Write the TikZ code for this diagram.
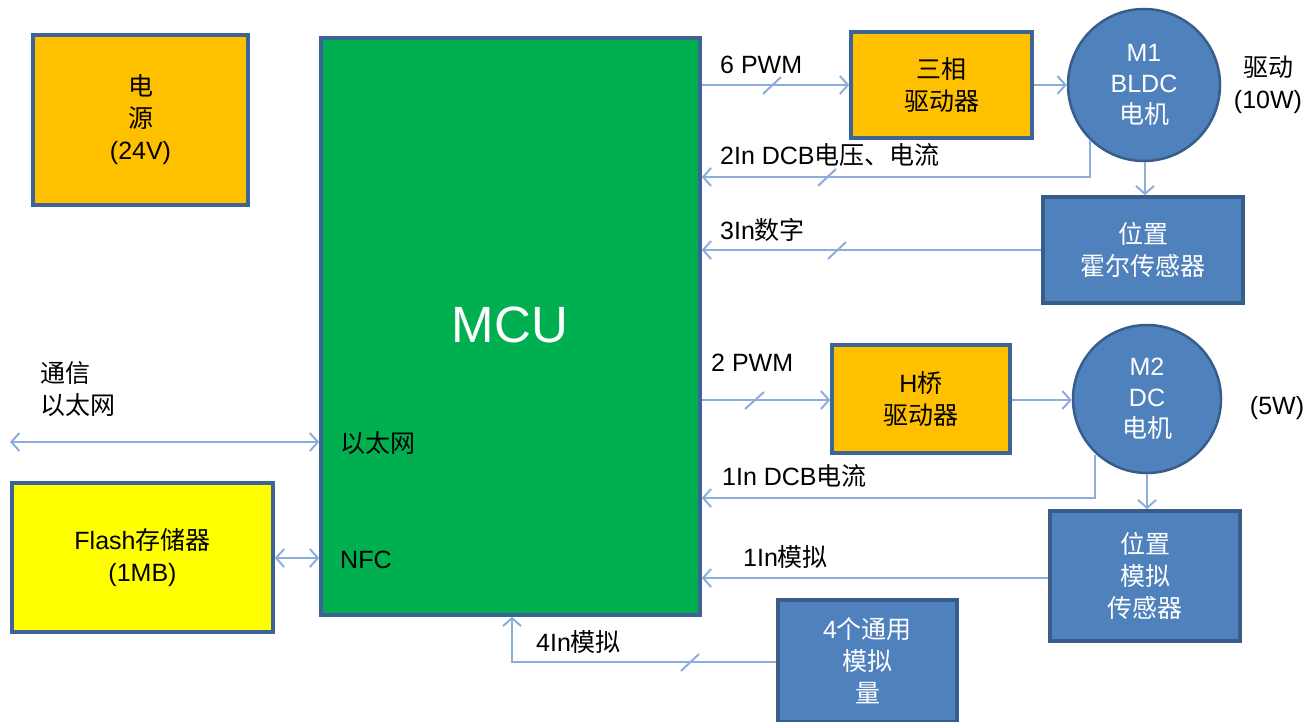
\documentclass[tikz,border=0pt]{standalone}
\usepackage{fontspec}
\setmainfont{Liberation Sans}
\newfontfamily\cjk{Noto Sans CJK SC}
\newcommand{\zh}[1]{{\cjk #1}}
\usetikzlibrary{arrows.meta}
\definecolor{linec}{RGB}{141,174,218}
\definecolor{bordc}{RGB}{62,100,150}
\definecolor{orangef}{RGB}{255,192,0}
\definecolor{greenf}{RGB}{0,176,80}
\definecolor{bluef}{RGB}{79,129,189}
\definecolor{blueb}{RGB}{56,93,138}
\definecolor{yellowf}{RGB}{255,255,0}
\tikzset{
  box/.style={draw=bordc, line width=3.5pt, rectangle, align=center, font=\fontsize{25}{32}\selectfont, inner sep=0pt},
  orangebox/.style={box, fill=orangef, text=black},
  bluebox/.style={box, fill=bluef, draw=blueb, text=white},
  motor/.style={circle, fill=bluef, draw=blueb, line width=2.5pt, text=white, align=center, font=\fontsize{25}{31}\selectfont, inner sep=0pt},
  conn/.style={draw=linec, line width=2pt, -{Straight Barb[length=8pt,width=18pt,line width=2pt]}},
  bconn/.style={draw=linec, line width=2pt, {Straight Barb[length=8pt,width=18pt,line width=2pt]}-{Straight Barb[length=8pt,width=18pt,line width=2pt]}},
  slashc/.style={draw=linec, line width=2pt},
  lbl/.style={font=\fontsize{25}{32}\selectfont, text=black, inner sep=0pt, align=left},
}
\begin{document}
\begin{tikzpicture}[x=1pt,y=-1pt]
\useasboundingbox (0,0) rectangle (1315,721);
% boxes
\node[orangebox, minimum width=215pt, minimum height=170pt] (power) at (140.5,120) {\zh{电}\\\zh{源}\\(24V)};
\node[box, fill=greenf, minimum width=379pt, minimum height=577pt] (mcu) at (510.5,326.5) {};
\node[font=\fontsize{51}{60}\selectfont, text=white] (mcut) at (510,325) {MCU};
\node[orangebox, minimum width=181pt, minimum height=106pt] (drv3) at (941.5,85) {\zh{三相}\\\zh{驱动器}};
\node[motor, minimum size=152pt] (m1) at (1144,85) {M1\\BLDC\\\zh{电机}};
\node[bluebox, minimum width=200pt, minimum height=106pt] (hall) at (1143,250) {\zh{位置}\\\zh{霍尔传感器}};
\node[orangebox, minimum width=178pt, minimum height=108pt] (hb) at (921,399) {H\zh{桥}\\\zh{驱动器}};
\node[motor, minimum size=148pt] (m2) at (1147,399) {M2\\DC\\\zh{电机}};
\node[bluebox, minimum width=190pt, minimum height=130pt] (asens) at (1145,576) {\zh{位置}\\\zh{模拟}\\\zh{传感器}};
\node[bluebox, minimum width=179pt, minimum height=122pt] (gen) at (867.5,661) {4\zh{个通用}\\\zh{模拟}\\\zh{量}};
\node[box, fill=yellowf, minimum width=261pt, minimum height=149pt] (flash) at (142.5,557.5) {Flash\zh{存储器}\\(1MB)};
% side labels
\node[lbl, align=center] (drvlbl) at (1268,85) {\zh{驱动}\\(10W)};
\node[lbl] (w5) at (1277,408) {(5W)};
\node[lbl, anchor=west] (comm) at (40,389) {\zh{通信}\\\zh{以太网}};
\node[lbl, anchor=west] (ethin) at (340,443) {\zh{以太网}};
\node[lbl, anchor=west] (nfc) at (340,560) {NFC};
% coordinates
\coordinate (ethL) at (10,442);
\coordinate (c6a) at (mcu.east |- 0,85);
\coordinate (c2a) at (mcu.east |- 0,400);
\coordinate (fb1a) at (1090,140);
\coordinate (fb1b) at (1090,177);
\coordinate (fb2a) at (1095,455);
\coordinate (fb2b) at (1095,498);
\coordinate (g1) at (512,662);
% connectors
\draw[conn] (c6a) -- (drv3.west |- c6a);
\node[lbl, anchor=west] (l6p) at (720,65) {6 PWM};
\draw[slashc] (763,94) -- (781,77);
\draw[conn] (drv3.east |- 0,85) -- (m1.west |- 0,85);
\draw[conn] (fb1a) -- (fb1b) -- (mcu.east |- fb1b);
\node[lbl, anchor=west] (l2in) at (720,155) {2In DCB\zh{电压、电流}};
\draw[slashc] (818,186) -- (836,169);
\draw[conn] (m1.south -| 1145,0) -- (hall.north -| 1145,0);
\draw[conn] (hall.west |- 0,250) -- (mcu.east |- 0,250);
\node[lbl, anchor=west] (l3in) at (720,230) {3In\zh{数字}};
\draw[slashc] (828,259) -- (846,242);
\draw[conn] (c2a) -- (hb.west |- c2a);
\node[lbl, anchor=west] (l2p) at (711,363) {2 PWM};
\draw[slashc] (745,409) -- (764,392);
\draw[conn] (hb.east |- 0,400) -- (m2.west |- 0,400);
\draw[conn] (fb2a) -- (fb2b) -- (mcu.east |- fb2b);
\node[lbl, anchor=west] (l1in) at (722,476) {1In DCB\zh{电流}};
\draw[conn] (m2.south -| 1147,0) -- (asens.north -| 1147,0);
\draw[conn] (asens.west |- 0,578) -- (mcu.east |- 0,578);
\node[lbl, anchor=west] (l1a) at (743,557) {1In\zh{模拟}};
\draw[conn] (gen.west |- g1) -- (g1) -- (mcu.south -| g1);
\node[lbl, anchor=west] (l4a) at (536,642) {4In\zh{模拟}};
\draw[slashc] (681,671) -- (699,654);
\draw[bconn] (ethL) -- (mcu.west |- ethL);
\draw[bconn] (flash.east |- 0,558) -- (mcu.west |- 0,558);
\end{tikzpicture}
\end{document}
